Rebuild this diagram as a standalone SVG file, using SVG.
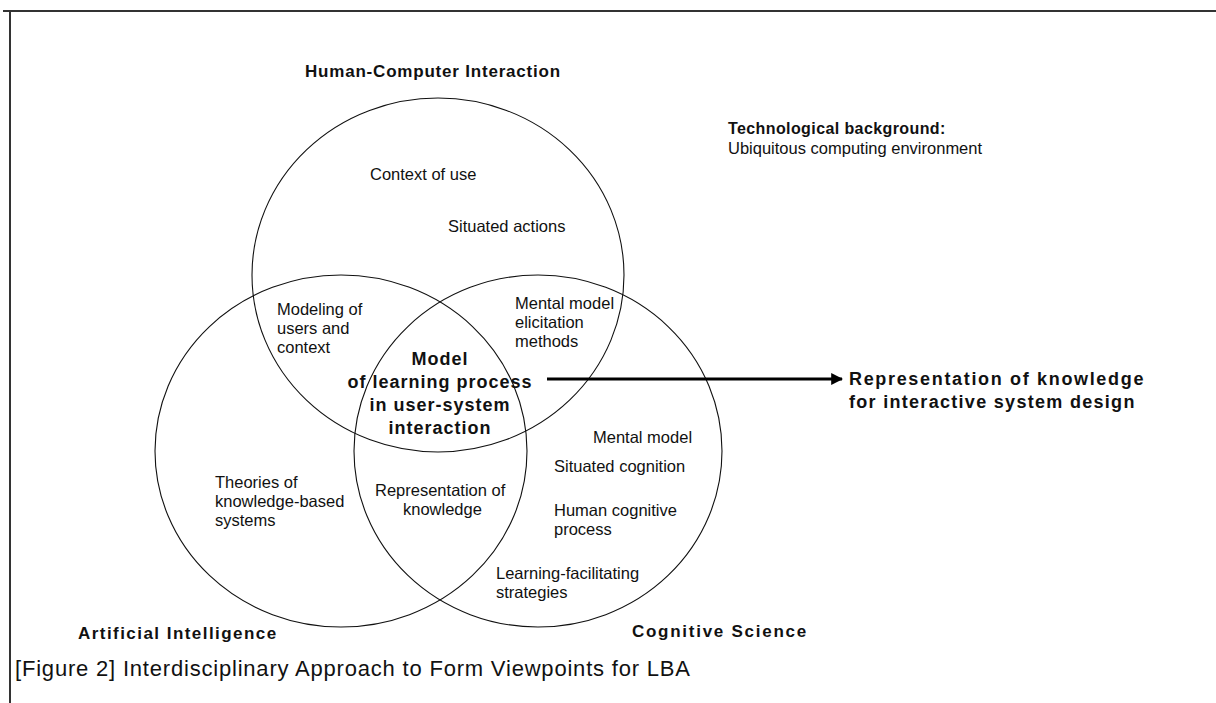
<svg xmlns="http://www.w3.org/2000/svg" width="1216" height="703" viewBox="0 0 1216 703">
  <defs>
    <style>
      .frame { stroke: #333; stroke-width: 2; fill: none; }
      .set { fill: none; stroke: #111; stroke-width: 1.1; }
      .lbl { font-family: "Liberation Sans", Arial, sans-serif; font-size: 16.5px; fill: #111; }
      .head { font-family: "Liberation Sans", Arial, sans-serif; font-size: 17px; font-weight: bold; fill: #111; letter-spacing: 0.8px; }
      .core { font-family: "Liberation Sans", Arial, sans-serif; font-size: 18px; font-weight: bold; fill: #111; letter-spacing: 1px; text-anchor: middle; }
      .out { font-family: "Liberation Sans", Arial, sans-serif; font-size: 18px; font-weight: bold; fill: #111; letter-spacing: 0.6px; }
      .caption { font-family: "Liberation Sans", Arial, sans-serif; font-size: 22px; fill: #111; }
      .link { stroke: #000; stroke-width: 3; fill: none; }
    </style>
    <marker id="arrow" viewBox="0 0 10 10" refX="9" refY="5" markerWidth="4" markerHeight="4" orient="auto" markerUnits="strokeWidth">
      <path d="M0,0 L10,5 L0,10 z" fill="#000"/>
    </marker>
  </defs>

  <rect width="1216" height="703" fill="#fff"/>

  <!-- page frame -->
  <path class="frame" d="M3,11 H1216 M10,11 V703"/>

  <!-- Human-Computer Interaction -->
  <g id="hci">
    <ellipse class="set" cx="438" cy="275" rx="186" ry="177"/>
    <text class="head" x="305" y="77">Human-Computer Interaction</text>
    <text class="lbl" x="370" y="180">Context of use</text>
    <text class="lbl" x="448" y="232">Situated actions</text>
  </g>

  <!-- Artificial Intelligence -->
  <g id="ai">
    <ellipse class="set" cx="341" cy="451" rx="186" ry="176"/>
    <text class="head" x="78" y="639" textLength="199">Artificial Intelligence</text>
    <text class="lbl" x="215" y="488">Theories of</text>
    <text class="lbl" x="215" y="507">knowledge-based</text>
    <text class="lbl" x="215" y="526">systems</text>
  </g>

  <!-- Cognitive Science -->
  <g id="cs">
    <ellipse class="set" cx="538" cy="451" rx="184" ry="176"/>
    <text class="head" x="632" y="637" textLength="175">Cognitive Science</text>
    <text class="lbl" x="593" y="443">Mental model</text>
    <text class="lbl" x="554" y="472">Situated cognition</text>
    <text class="lbl" x="554" y="516">Human cognitive</text>
    <text class="lbl" x="554" y="535">process</text>
    <text class="lbl" x="496" y="579">Learning-facilitating</text>
    <text class="lbl" x="496" y="598">strategies</text>
  </g>

  <!-- overlaps -->
  <g id="hci-ai">
    <text class="lbl" x="277" y="315">Modeling of</text>
    <text class="lbl" x="277" y="334">users and</text>
    <text class="lbl" x="277" y="353">context</text>
  </g>
  <g id="hci-cs">
    <text class="lbl" x="515" y="309">Mental model</text>
    <text class="lbl" x="515" y="328">elicitation</text>
    <text class="lbl" x="515" y="347">methods</text>
  </g>
  <g id="ai-cs">
    <text class="lbl" x="375" y="496">Representation of</text>
    <text class="lbl" x="403" y="515">knowledge</text>
  </g>
  <g id="core">
    <text class="core" x="440" y="365">Model</text>
    <text class="core" x="440" y="388">of learning process</text>
    <text class="core" x="440" y="411">in user-system</text>
    <text class="core" x="440" y="434">interaction</text>
  </g>

  <!-- context note -->
  <g id="background">
    <text class="head" x="728" y="134" style="font-size:16px;letter-spacing:0.4px">Technological background:</text>
    <text class="lbl" x="728" y="154">Ubiquitous computing environment</text>
  </g>

  <!-- outcome -->
  <g id="outcome">
    <text class="out" x="849" y="385" textLength="295">Representation of knowledge</text>
    <text class="out" x="849" y="408" textLength="286">for interactive system design</text>
  </g>

  <g id="connectors">
    <line class="link" x1="547" y1="379" x2="842" y2="379" marker-end="url(#arrow)"/>
  </g>

  <text class="caption" x="15" y="676" textLength="675">[Figure 2] Interdisciplinary Approach to Form Viewpoints for LBA</text>
</svg>
